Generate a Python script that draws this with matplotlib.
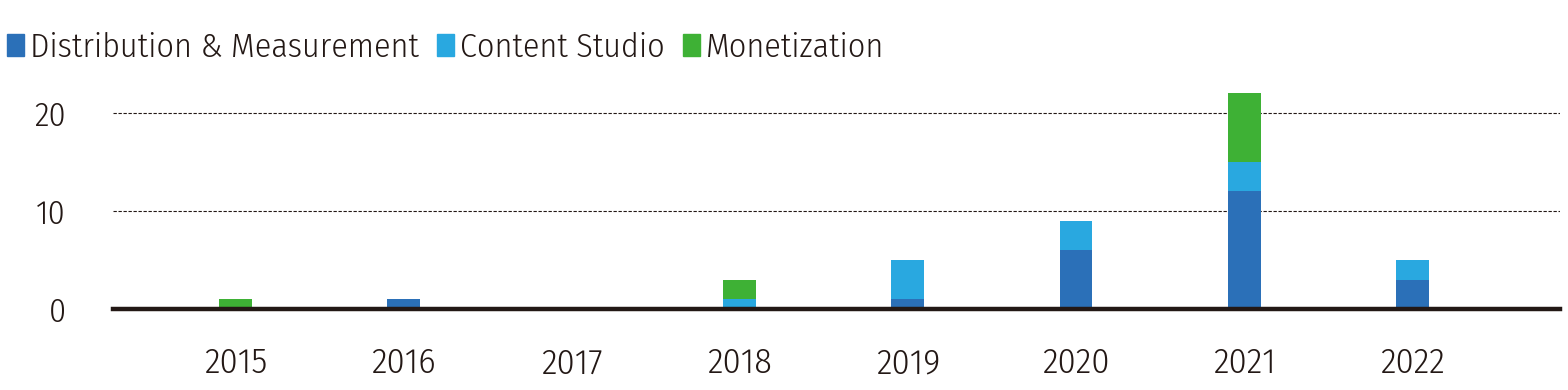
import matplotlib
matplotlib.use("Agg")
import matplotlib.pyplot as plt
from matplotlib.patches import Patch
import numpy as np

years = ["2015", "2016", "2017", "2018", "2019", "2020", "2021", "2022"]
dist_meas = [0, 1, 0, 0, 1, 6, 12, 3]
content_studio = [0, 0, 0, 1, 4, 3, 3, 2]
monetization = [1, 0, 0, 2, 0, 0, 7, 0]
series_names = ["Distribution & Measurement", "Content Studio", "Monetization"]
colors = ["#2B70B8", "#29A8E0", "#3EB135"]

plt.rcParams['font.family'] = ['Fira Sans Condensed', 'Noto Sans CJK KR', 'DejaVu Sans']
plt.rcParams['font.weight'] = 300

fig = plt.figure(figsize=(15.68, 3.9), dpi=100)
ax = fig.add_axes([113/1568, 1-309/390, (1560-113)/1568, (309-64)/390])

x = np.arange(len(years))
w = 0.196
d = np.array(dist_meas); c = np.array(content_studio); m = np.array(monetization)
ax.bar(x, d, w, color=colors[0], zorder=2)
ax.bar(x, c, w, bottom=d, color=colors[1], zorder=2)
ax.bar(x, m, w, bottom=d + c, color=colors[2], zorder=2)

ax.set_xlim(-0.73, 7.88)
ax.set_ylim(0, 25)
ax.set_yticks([0, 10, 20])
ax.set_xticks(x)
ax.set_xticklabels(years)
for s in ["top", "right", "left"]:
    ax.spines[s].set_visible(False)
ax.spines["bottom"].set_linewidth(3.2)
ax.spines["bottom"].set_color("#231815")
ax.spines["bottom"].set_zorder(3)
ax.tick_params(axis="both", length=0, colors="#231815")
ax.tick_params(axis="y", labelsize=24.5, pad=34)
ax.tick_params(axis="x", labelsize=26, pad=27)
for yv in [10, 20]:
    ax.axhline(yv, color="#231815", lw=0.8, ls=(0, (3, 1.5)), zorder=1)

handles = [Patch(color=col) for col in colors]
leg = fig.legend(handles, series_names, loc="center left", bbox_to_anchor=(0.0, 1-48/390),
                 ncol=3, frameon=False, fontsize=24.5, handlelength=0.5, handleheight=0.62,
                 handletextpad=0.17, columnspacing=0.55, borderaxespad=0, borderpad=0.2)
for t in leg.get_texts():
    t.set_color("#231815")

fig.savefig("out.png", dpi=100)
